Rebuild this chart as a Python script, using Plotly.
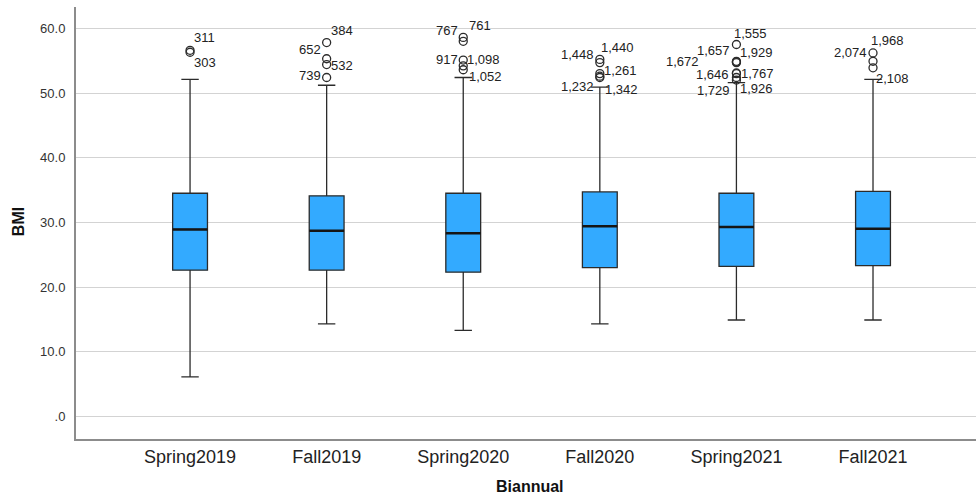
import plotly.graph_objects as go

categories = ["Spring2019", "Fall2019", "Spring2020", "Fall2020", "Spring2021", "Fall2021"]
q1 = [22.6, 22.6, 22.3, 23.0, 23.2, 23.3]
median = [28.9, 28.7, 28.3, 29.4, 29.3, 29.0]
q3 = [34.5, 34.1, 34.5, 34.7, 34.5, 34.8]
lower_whisker = [6.1, 14.3, 13.3, 14.3, 14.9, 14.9]
upper_whisker = [52.1, 51.2, 52.4, 50.9, 51.6, 52.1]

# outlier values per category
outliers = {
    "Spring2019": [56.6, 56.3],
    "Fall2019": [57.8, 55.3, 54.4, 52.4],
    "Spring2020": [58.6, 58.0, 55.1, 54.2, 53.6],
    "Fall2020": [55.2, 54.7, 53.0, 52.6, 52.4],
    "Spring2021": [57.5, 54.9, 54.8, 54.7, 53.1, 53.0, 52.4, 52.0],
    "Fall2021": [56.2, 54.9, 53.9],
}

# case labels: (category, label, label y value, horizontal shift px, anchor)
case_labels = [
    ("Spring2019", "311", 58.55, 3, "left"),
    ("Spring2019", "303", 54.75, 3, "left"),
    ("Fall2019", "384", 59.6, 3, "left"),
    ("Fall2019", "652", 56.76, -5, "right"),
    ("Fall2019", "532", 54.33, 3, "left"),
    ("Fall2019", "739", 52.68, -5, "right"),
    ("Spring2020", "767", 59.74, -4, "right"),
    ("Spring2020", "761", 60.5, 5, "left"),
    ("Spring2020", "917", 55.2, -4, "right"),
    ("Spring2020", "1,098", 55.2, 3, "left"),
    ("Spring2020", "1,052", 52.63, 5, "left"),
    ("Fall2020", "1,448", 55.99, -5, "right"),
    ("Fall2020", "1,440", 57.07, 0, "left"),
    ("Fall2020", "1,261", 53.41, 3, "left"),
    ("Fall2020", "1,232", 50.98, -5, "right"),
    ("Fall2020", "1,342", 50.58, 4, "left"),
    ("Spring2021", "1,555", 59.23, -3, "left"),
    ("Spring2021", "1,657", 56.5, -5, "right"),
    ("Spring2021", "1,929", 56.3, 3, "left"),
    ("Spring2021", "1,672", 54.84, -36, "right"),
    ("Spring2021", "1,646", 52.79, -6, "right"),
    ("Spring2021", "1,767", 53.05, 4, "left"),
    ("Spring2021", "1,729", 50.36, -5, "right"),
    ("Spring2021", "1,926", 50.73, 3, "left"),
    ("Fall2021", "1,968", 58.09, -3, "left"),
    ("Fall2021", "2,074", 56.23, -5, "right"),
    ("Fall2021", "2,108", 52.17, 2, "left"),
]

y_ticks = [0, 10, 20, 30, 40, 50, 60]
y_ticktext = [".0", "10.0", "20.0", "30.0", "40.0", "50.0", "60.0"]

FONT = "Liberation Sans, Arial, sans-serif"
BOX_WIDTH = 0.255

fig = go.Figure()
fig.add_trace(go.Box(
    x=categories,
    q1=q1, median=median, q3=q3,
    lowerfence=lower_whisker, upperfence=upper_whisker,
    fillcolor="#33aaff",
    line=dict(color="#2b2b2b", width=1.3),
    width=BOX_WIDTH,
    whiskerwidth=0.5,
    boxpoints=False,
    showlegend=False,
    hoverinfo="skip",
))

# thicker median bars
for i, m in enumerate(median):
    fig.add_shape(
        type="line", xref="x", yref="y",
        x0=i - BOX_WIDTH / 2, x1=i + BOX_WIDTH / 2, y0=m, y1=m,
        line=dict(color="#151515", width=2.5),
    )

ox, oy = [], []
for c in categories:
    for v in outliers[c]:
        ox.append(c)
        oy.append(v)
fig.add_trace(go.Scatter(
    x=ox, y=oy, mode="markers",
    marker=dict(symbol="circle-open", size=8, color="#2b2b2b", line=dict(width=1.3)),
    showlegend=False, hoverinfo="skip",
))

for c, lab, yv, dx, anchor in case_labels:
    fig.add_annotation(
        x=c, y=yv, xref="x", yref="y", text=lab, showarrow=False,
        xanchor=anchor, yanchor="middle", xshift=dx, borderpad=0,
        font=dict(family=FONT, size=13, color="#222222"),
    )

# axis titles
fig.add_annotation(
    x=0.504, y=-0.111, xref="paper", yref="paper", text="<b>Biannual</b>",
    showarrow=False, xanchor="center", yanchor="middle",
    font=dict(family=FONT, size=16, color="#111111"),
)
fig.add_annotation(
    x=-0.0644, y=0.502, xref="paper", yref="paper", text="<b>BMI</b>",
    showarrow=False, xanchor="center", yanchor="middle", textangle=-90,
    font=dict(family=FONT, size=16, color="#111111"),
)

fig.update_layout(
    width=976, height=496,
    margin=dict(l=76, r=0, t=7, b=57),
    plot_bgcolor="white", paper_bgcolor="white",
    font=dict(family=FONT, color="#222222"),
)
fig.update_xaxes(
    type="category",
    range=[-0.835, 5.754],
    automargin=False,
    showgrid=False, zeroline=False,
    showline=True, linecolor="#8c8c8c", linewidth=2,
    ticks="", 
    tickfont=dict(family=FONT, size=18, color="#222222"),
)
fig.update_yaxes(
    range=[-3.5, 63.3],
    automargin=False,
    tickvals=y_ticks, ticktext=y_ticktext,
    showgrid=True, gridcolor="#d3d3d3", gridwidth=1.3,
    zeroline=False,
    showline=True, linecolor="#8c8c8c", linewidth=2,
    ticks="outside", ticklen=6, tickcolor="rgba(0,0,0,0)",
    tickfont=dict(family=FONT, size=13, color="#333333"),
)

fig.write_html(
    "out.html",
    config={"displayModeBar": False},
    post_script="document.body.style.margin='0';document.body.style.padding='0';",
)
